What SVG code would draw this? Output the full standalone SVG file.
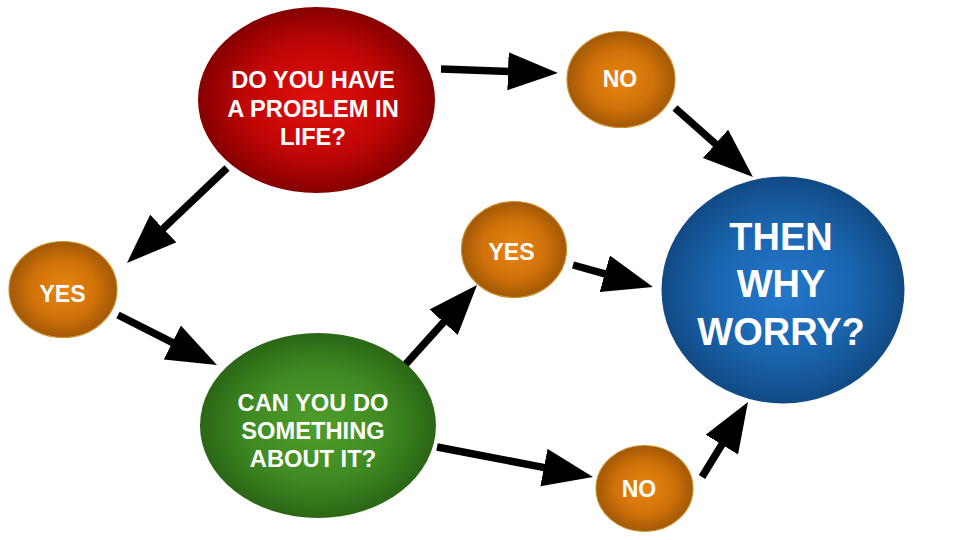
<svg xmlns="http://www.w3.org/2000/svg" width="960" height="540" viewBox="0 0 960 540">
  <defs>
    <radialGradient id="gRed" cx="50%" cy="50%" r="50%">
      <stop offset="0" stop-color="#e0100c"/>
      <stop offset="0.6" stop-color="#c00606"/>
      <stop offset="1" stop-color="#850000"/>
    </radialGradient>
    <radialGradient id="gGreen" cx="50%" cy="50%" r="50%">
      <stop offset="0" stop-color="#4f9e2c"/>
      <stop offset="0.6" stop-color="#3f8a22"/>
      <stop offset="1" stop-color="#2b6616"/>
    </radialGradient>
    <radialGradient id="gBlue" cx="50%" cy="50%" r="50%">
      <stop offset="0" stop-color="#2478cc"/>
      <stop offset="0.6" stop-color="#1a64ad"/>
      <stop offset="1" stop-color="#114a84"/>
    </radialGradient>
    <radialGradient id="gOrange" cx="50%" cy="50%" r="50%">
      <stop offset="0" stop-color="#ea8410"/>
      <stop offset="0.6" stop-color="#d0720a"/>
      <stop offset="1" stop-color="#a25806"/>
    </radialGradient>
    <marker id="head" markerUnits="userSpaceOnUse" markerWidth="52" markerHeight="40" refX="2" refY="19" orient="auto">
      <path d="M0,0 L50,19 L0,38 z" fill="#000"/>
    </marker>
    <style>
      .lbl { font-family: "Liberation Sans", Arial, sans-serif; font-weight: bold; fill: #ffffff; text-anchor: middle; }
      .big { font-size: 23.7px; }
      .sm { font-size: 23px; }
      .huge { font-size: 38px; }
      .orange { fill: url(#gOrange); stroke: #c9902e; stroke-width: 1.2; }
      .conn { stroke: #000; stroke-width: 7.5; fill: none; marker-end: url(#head); }
    </style>
  </defs>
  <rect width="960" height="540" fill="#ffffff"/>

  <g id="connectors">
    <line class="conn" x1="441" y1="69" x2="510" y2="71.4"/>
    <line class="conn" x1="675" y1="108" x2="717" y2="145.2"/>
    <line class="conn" x1="227" y1="168" x2="161.8" y2="229.9"/>
    <line class="conn" x1="118" y1="315" x2="174.1" y2="343.4"/>
    <line class="conn" x1="405" y1="365" x2="444.9" y2="320.7"/>
    <line class="conn" x1="573" y1="265" x2="606.7" y2="274.3"/>
    <line class="conn" x1="437" y1="447" x2="545.9" y2="467.9"/>
    <line class="conn" x1="702" y1="477" x2="722.9" y2="442.9"/>
  </g>

  <g id="problem">
    <ellipse cx="316.5" cy="100" rx="118.5" ry="93" fill="url(#gRed)"/>
    <text class="lbl big" x="313" y="88">DO YOU HAVE</text>
    <text class="lbl big" x="313" y="117">A PROBLEM IN</text>
    <text class="lbl big" x="313" y="145">LIFE?</text>
  </g>

  <g id="no-top">
    <ellipse class="orange" cx="621" cy="79.5" rx="54" ry="48"/>
    <text class="lbl sm" x="620" y="87">NO</text>
  </g>

  <g id="yes-left">
    <ellipse class="orange" cx="63" cy="289.5" rx="54" ry="48"/>
    <text class="lbl sm" x="62.5" y="302">YES</text>
  </g>

  <g id="can-do">
    <ellipse cx="318" cy="425.5" rx="118" ry="92.5" fill="url(#gGreen)"/>
    <text class="lbl big" x="313" y="411">CAN YOU DO</text>
    <text class="lbl big" x="313" y="439">SOMETHING</text>
    <text class="lbl big" x="313" y="467">ABOUT IT?</text>
  </g>

  <g id="yes-mid">
    <ellipse class="orange" cx="514" cy="249.5" rx="52.5" ry="48"/>
    <text class="lbl sm" x="511.5" y="260">YES</text>
  </g>

  <g id="no-bottom">
    <ellipse class="orange" cx="644.5" cy="488.5" rx="48.5" ry="43"/>
    <text class="lbl sm" x="639" y="497">NO</text>
  </g>

  <g id="why-worry">
    <ellipse cx="783" cy="290" rx="121.5" ry="113.5" fill="url(#gBlue)"/>
    <text class="lbl huge" x="781" y="250">THEN</text>
    <text class="lbl huge" x="781" y="297">WHY</text>
    <text class="lbl huge" x="781" y="345">WORRY?</text>
  </g>
</svg>
